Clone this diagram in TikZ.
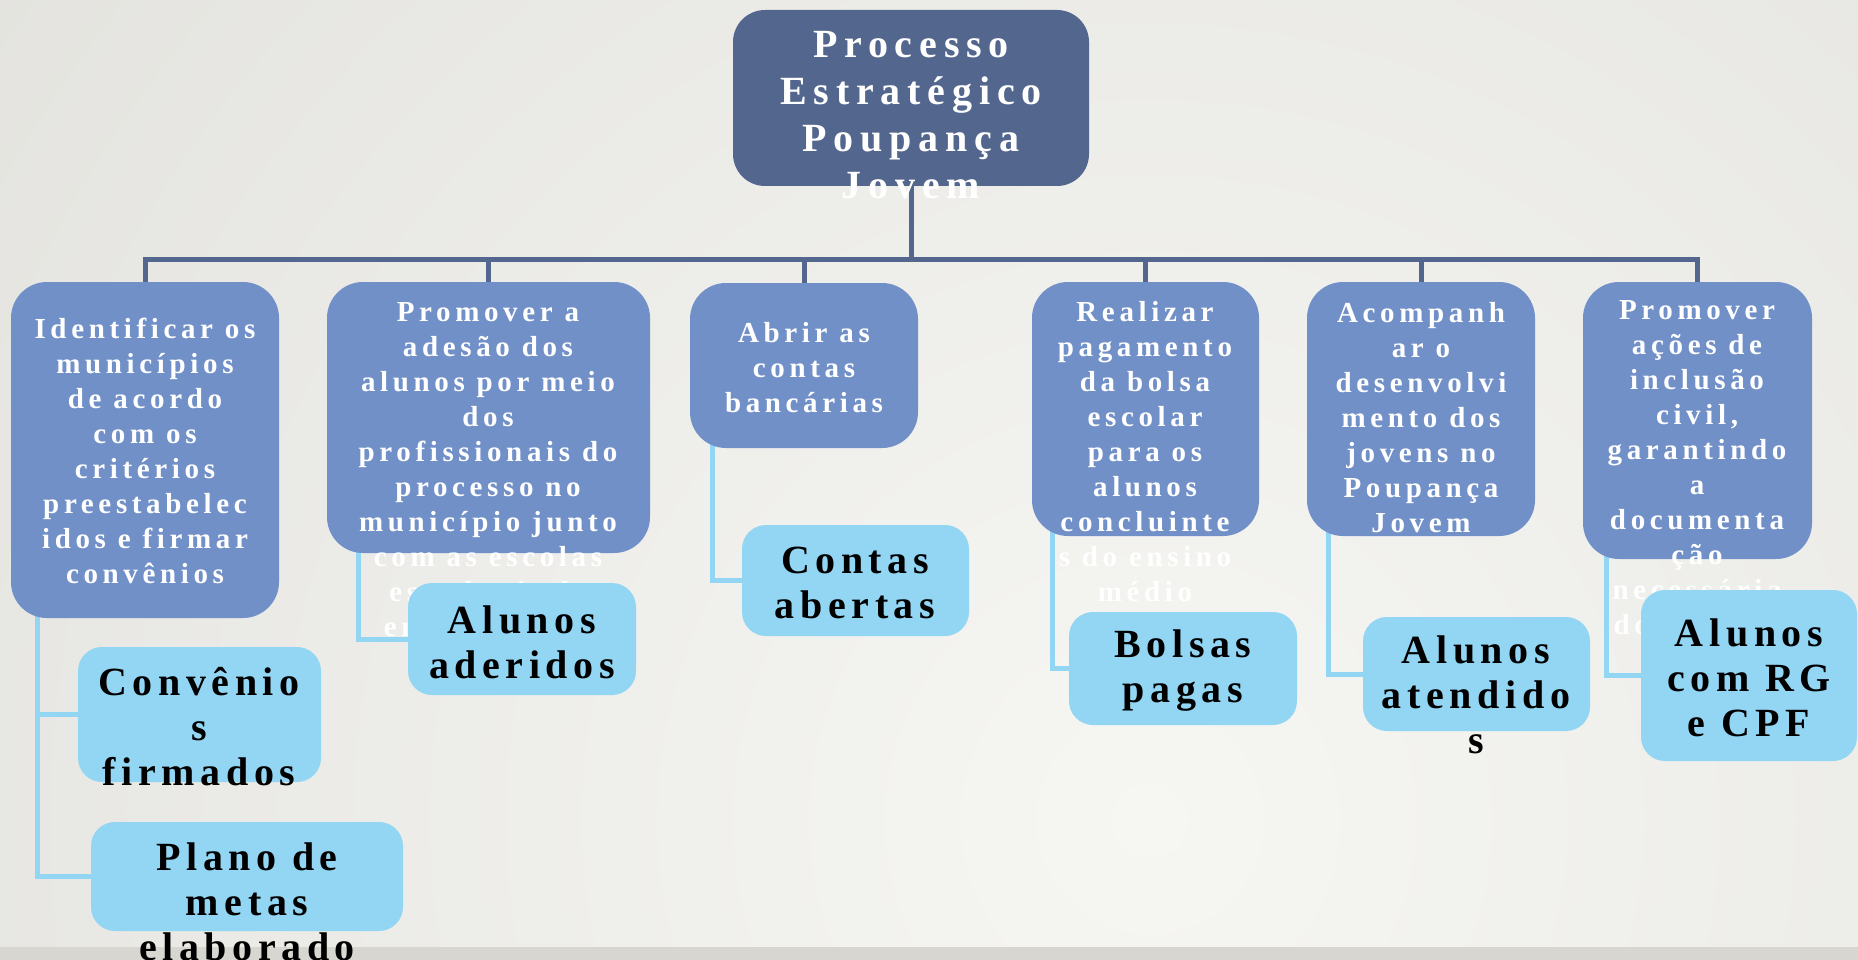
\documentclass[tikz,border=0pt]{standalone}
\usepackage{fontspec}
\newfontfamily\rootf[LetterSpace=17]{Liberation Serif}
\newfontfamily\lonef[LetterSpace=16]{Liberation Serif}
\newfontfamily\ltwof[LetterSpace=14]{Liberation Serif}
\definecolor{rootc}{RGB}{83,102,142}
\definecolor{lonec}{RGB}{113,144,200}
\definecolor{ltwoc}{RGB}{146,214,244}
\definecolor{bgin}{RGB}{246,246,243}
\definecolor{bgout}{RGB}{218,217,212}
\definecolor{stripc}{RGB}{215,214,209}
\pgfdeclarelayer{bg}\pgfdeclarelayer{fg}\pgfsetlayers{bg,main,fg}
\tikzset{
 rootbox/.style={rectangle, rounded corners=32pt, fill=rootc, inner sep=0pt},
 onebox/.style={rectangle, rounded corners=36pt, fill=lonec, inner sep=0pt},
 twobox/.style={rectangle, rounded corners=24pt, fill=ltwoc, inner sep=0pt},
 roottext/.style={text=white, align=center, inner sep=0pt, font=\rootf\bfseries\fontsize{40}{47}\selectfont},
 onetext/.style={text=white, align=center, inner sep=0pt, font=\lonef\bfseries\fontsize{29}{35}\selectfont},
 twotext/.style={text=black, align=center, inner sep=0pt, font=\ltwof\bfseries\fontsize{40}{45}\selectfont},
 busline/.style={draw=rootc, line width=5pt},
 subline/.style={draw=ltwoc, line width=5pt},
 dims/.style 2 args={minimum width=#1pt, minimum height=#2pt}
}
\begin{document}
\begin{tikzpicture}[x=1pt,y=-1pt]
\useasboundingbox (0,0) rectangle (1858,960);
\begin{pgfonlayer}{bg}
\fill[bgout] (0,0) rectangle (1858,960);
\begin{scope}
\clip (0,0) rectangle (1858,960);
\shade[inner color=bgin, outer color=bgout] (1150,820) circle (2200);
\end{scope}
\fill[stripc] (0,947) rectangle (1858,960);
\end{pgfonlayer}

% root
\node[rootbox, dims={356}{176}] (root) at (911,98) {};
\node[roottext] (roott) at (911,115) {Processo\\Estratégico\\Poupança\\Jovem};

% level 1 boxes
\node[onebox, dims={268}{336}] (b1) at (145,450) {};
\node[onebox, dims={323}{271}] (b2) at (488.5,417.5) {};
\node[onebox, dims={228}{165}] (b3) at (804,365.5) {};
\node[onebox, dims={227}{254}] (b4) at (1145.5,409) {};
\node[onebox, dims={228}{254}] (b5) at (1421,409) {};
\node[onebox, dims={229}{277}] (b6) at (1697.5,420.5) {};

% level 1 texts
\node[onetext] (t1) at (145,451) {Identificar os\\municípios\\de acordo\\com os\\critérios\\preestabelec\\idos e firmar\\convênios};
\node[onetext] (t2) at (488,470) {Promover a\\adesão dos\\alunos por meio\\dos\\profissionais do\\processo no\\município junto\\com as escolas\\estaduais de\\ensino médio};
\node[onetext] (t3) at (804,368) {Abrir as\\contas\\bancárias};
\node[onetext] (t4) at (1145,452) {Realizar\\pagamento\\da bolsa\\escolar\\para os\\alunos\\concluinte\\s do ensino\\médio};
\node[onetext] (t5) at (1421,417.5) {Acompanh\\ar o\\desenvolvi\\mento dos\\jovens no\\Poupança\\Jovem};
\node[onetext] (t6) at (1697,468) {Promover\\ações de\\inclusão\\civil,\\garantindo\\a\\documenta\\ção\\necessária\\dos alunos};

% level 2
\begin{pgfonlayer}{fg}
\node[twobox, dims={243}{135}] (c1) at (199.5,714.5) {};
\node[twobox, dims={312}{109}] (c2) at (247,876.5) {};
\node[twobox, dims={228}{112}] (c3) at (522,639) {};
\node[twobox, dims={227}{111}] (c4) at (855.5,580.5) {};
\node[twobox, dims={228}{113}] (c5) at (1183,668.5) {};
\node[twobox, dims={227}{114}] (c6) at (1476.5,674) {};
\node[twobox, dims={216}{171}] (c7) at (1749,675.5) {};
\node[twotext] (u1) at (199,726.5) {Convênio\\s\\firmados};
\node[twotext] (u2) at (247,901.5) {Plano de\\metas\\elaborado};
\node[twotext] (u3) at (522,642.5) {Alunos\\aderidos};
\node[twotext] (u4) at (855,582.5) {Contas\\abertas};
\node[twotext] (u5) at (1183,671) {Bolsas\\pagas};
\node[twotext] (u6) at (1476,695) {Alunos\\atendido\\s};
\node[twotext] (u7) at (1749,677.5) {Alunos\\com RG\\e CPF};
\end{pgfonlayer}

% connectors
\coordinate (busy) at (911,259);
\begin{pgfonlayer}{bg}
\draw[busline] (root.south) -- (root.south |- busy);
\draw[busline] (b1.north) -- (b1.north |- busy) -- (b6.north |- busy) -- (b6.north);
\foreach \b in {b2,b3,b4,b5} \draw[busline] (\b.north) -- (\b.north |- busy);
\draw[subline] ([xshift=27pt,yshift=6pt]b1.south west) |- (c1.west);
\draw[subline] ([xshift=27pt,yshift=6pt]b1.south west) |- (c2.west);
\draw[subline] ([xshift=32pt,yshift=6pt]b2.south west) |- (c3.west);
\draw[subline] ([xshift=23pt,yshift=6pt]b3.south west) |- (c4.west);
\draw[subline] ([xshift=21pt,yshift=6pt]b4.south west) |- (c5.west);
\draw[subline] ([xshift=22pt,yshift=6pt]b5.south west) |- (c6.west);
\draw[subline] ([xshift=24pt,yshift=6pt]b6.south west) |- (c7.west);
\end{pgfonlayer}
\end{tikzpicture}
\end{document}
